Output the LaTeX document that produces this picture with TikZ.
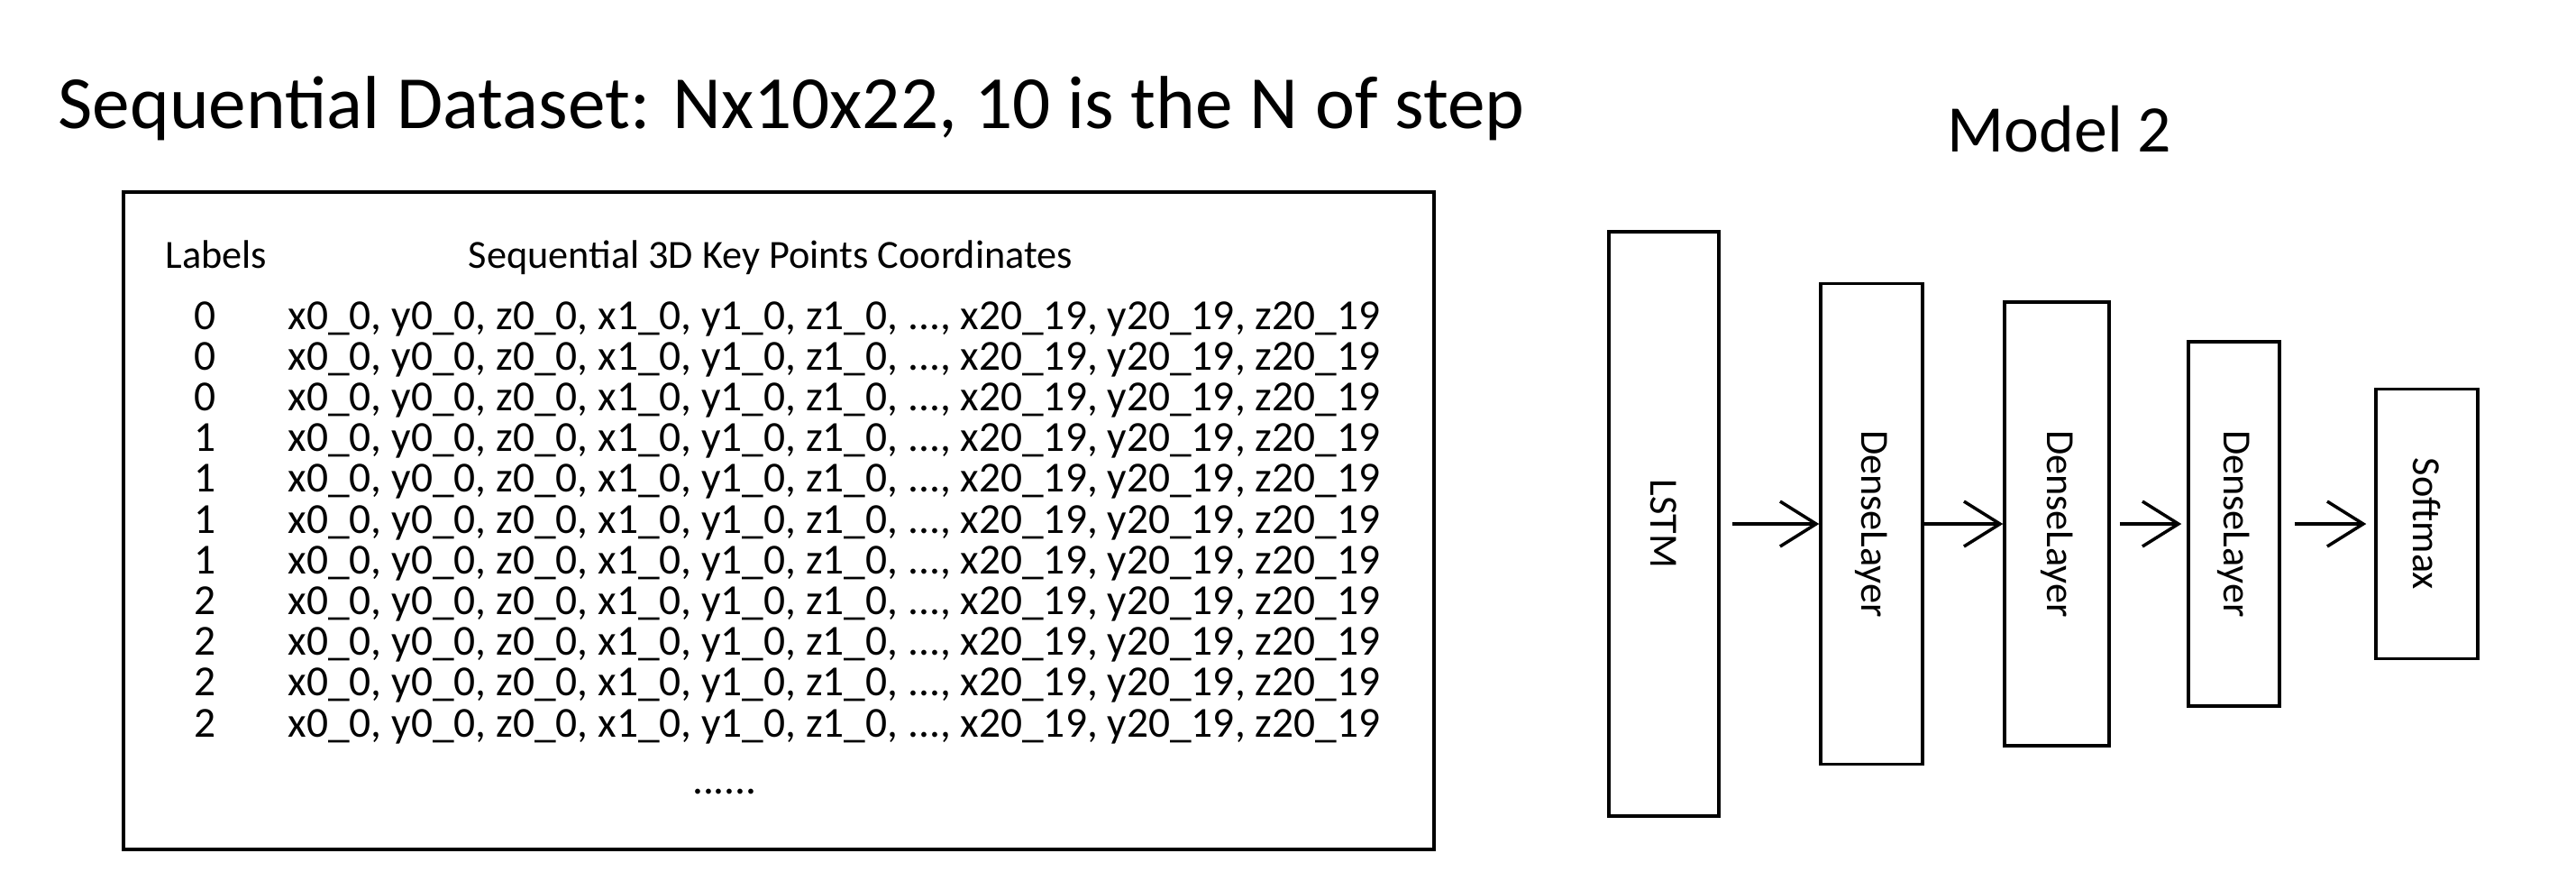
\documentclass[tikz,border=0pt]{standalone}
\usepackage{fontspec}
\setmainfont{Carlito}
\usetikzlibrary{arrows.meta}

\tikzset{
  layer/.style={draw, line width=1pt, inner sep=0pt},
  flow/.style={line width=1pt, -{Straight Barb[length=4mm,width=5mm]}},
  rowtext/.style={anchor=base west, inner sep=0pt, font=\fontsize{13.5}{16}\selectfont},
  small/.style={font=\fontsize{12.6}{15}\selectfont},
}

\begin{document}
\begin{tikzpicture}
    %\draw[lightgray] (0, 0) grid (29, -10);
    \useasboundingbox (0, 0) rectangle (28.58, -9.86);
    % dataset
    \node[anchor=base west, inner sep=0pt, font=\fontsize{23.7}{28}\selectfont] (title) at (0.64, -1.42) {Sequential Dataset: Nx10x22, 10 is the N of step};
    \node[draw, line width=1pt, minimum width=14.54cm, minimum height=7.29cm] (table) at (8.64, -5.775) {};
    \node[small, anchor=base] (labels) at (2.40, -2.97) {Labels};
    \node[small, anchor=base] (coords) at (8.55, -2.97) {Sequential 3D Key Points Coordinates};
    \foreach \lab [count=\i] in {0,0,0,1,1,1,1,2,2,2,2} {
        \node[anchor=base, inner sep=0pt, font=\fontsize{13.5}{16}\selectfont] (lab\i) at (2.28, {-3.198-0.452*\i}) {\lab};
        \node[rowtext] (row\i) at (3.19, {-3.198-0.452*\i}) {x0\_0, y0\_0, z0\_0, x1\_0, y1\_0, z1\_0, ..., x20\_19, y20\_19, z20\_19};
    }
    \node[rowtext, anchor=base] (more) at (8.04, -8.80) {......};
    % model
    \node[anchor=base, font=\fontsize{21}{25}\selectfont] (model) at (22.85, -1.68) {Model 2};
    \node[layer, minimum width=1.22cm, minimum height=6.48cm, label={[small, rotate=-90]center:LSTM}] (lstm) at (18.46, -5.81) {};
    \node[layer, minimum width=1.13cm, minimum height=5.33cm, label={[small, rotate=-90]center:DenseLayer}] (dense1) at (20.765, -5.81) {};
    \node[layer, minimum width=1.16cm, minimum height=4.92cm, label={[small, rotate=-90]center:DenseLayer}] (dense2) at (22.82, -5.81) {};
    \node[layer, minimum width=1.01cm, minimum height=4.04cm, label={[small, rotate=-90]center:DenseLayer}] (dense3) at (24.785, -5.81) {};
    \node[layer, minimum width=1.13cm, minimum height=2.99cm, label={[small, rotate=-90]center:Softmax}] (softmax) at (26.925, -5.81) {};
    \draw[flow, shorten <=1.3mm] (lstm) -- (dense1);
    \draw[flow] (dense1) -- (dense2);
    \draw[flow, shorten <=1mm, shorten >=0.6mm] (dense2) -- (dense3);
    \draw[flow, shorten <=1.5mm, shorten >=0.9mm] (dense3) -- (softmax);
\end{tikzpicture}
\end{document}
